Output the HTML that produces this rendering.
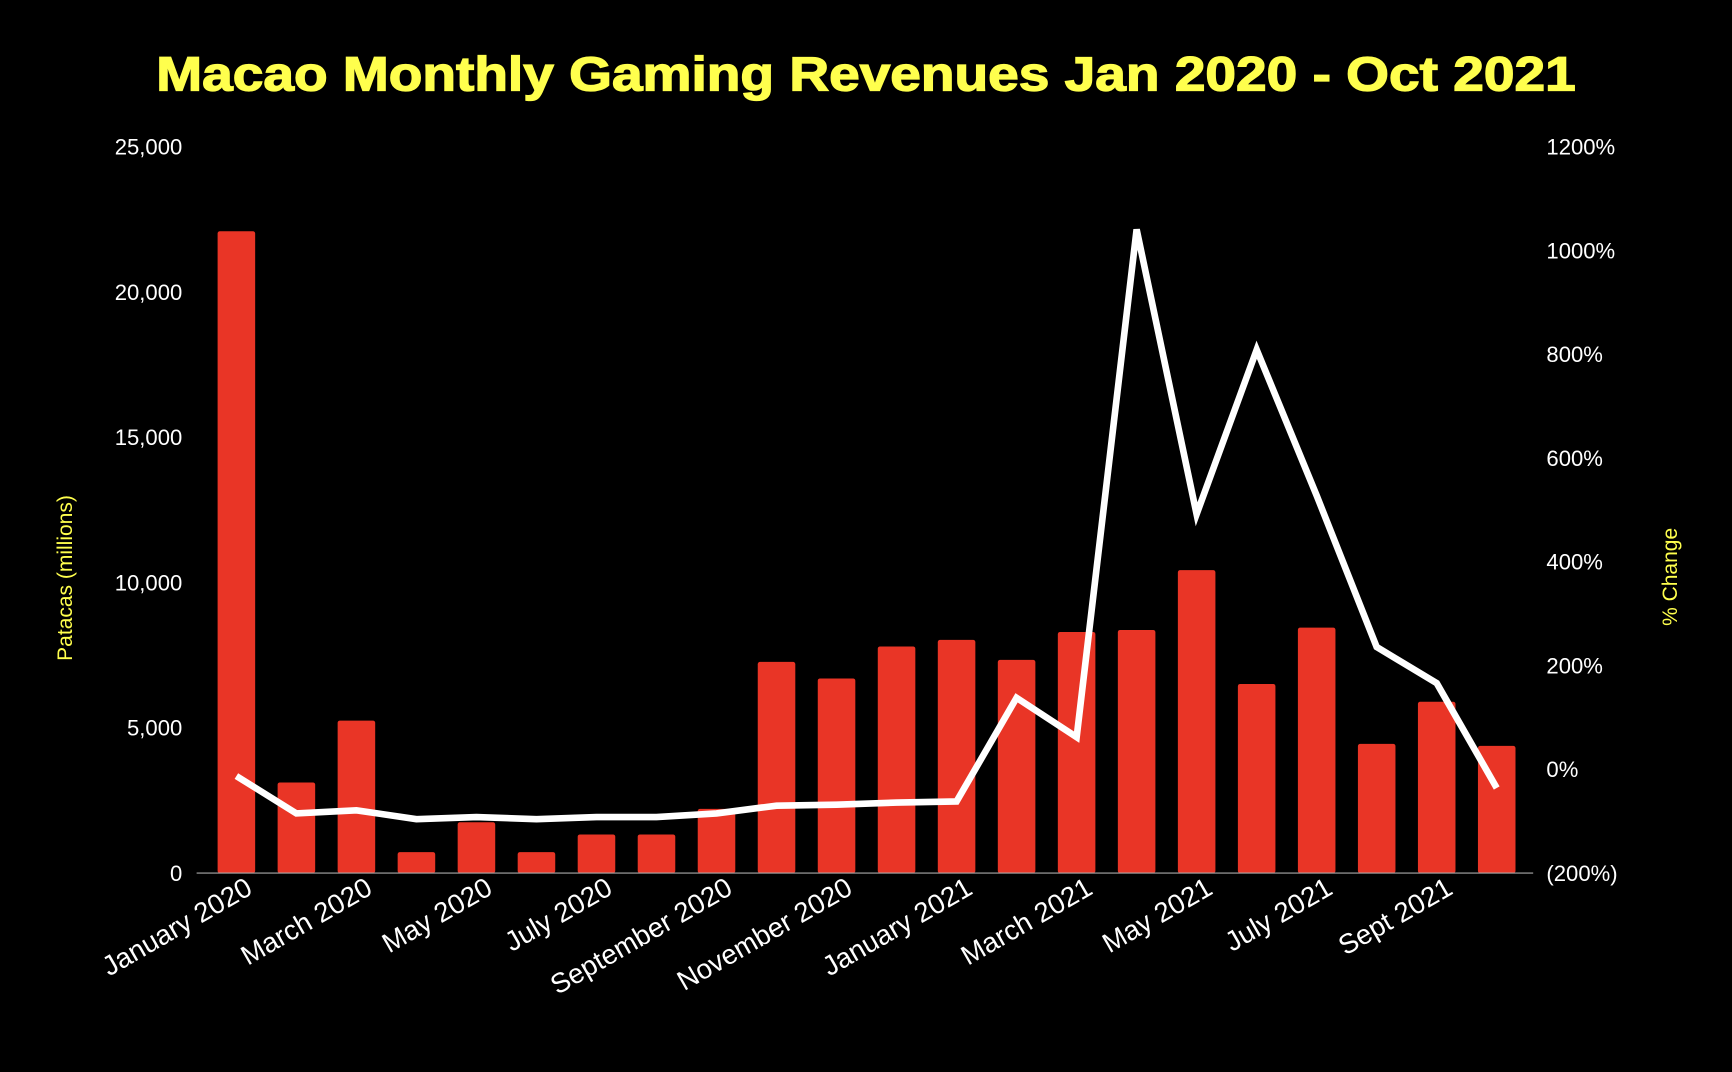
<!DOCTYPE html>
<html><head><meta charset="utf-8"><style>
html,body{margin:0;padding:0;background:#000;width:1732px;height:1072px;overflow:hidden}
svg{display:block}
text{font-family:"Liberation Sans",sans-serif}
</style></head><body>
<svg id="chart" width="1732" height="1072" viewBox="0 0 1568 970" preserveAspectRatio="none" xmlns="http://www.w3.org/2000/svg">
<rect width="1568" height="970" fill="#000"/>
<text x="784" y="82" text-anchor="middle" font-size="44" font-weight="bold" fill="#ffff4d" textLength="1285" lengthAdjust="spacingAndGlyphs" stroke="#ffff4d" stroke-width="1.2">Macao Monthly Gaming Revenues Jan 2020 - Oct 2021</text>
<text transform="translate(65,523) rotate(-90)" text-anchor="middle" font-size="19" fill="#ffff4d">Patacas (millions)</text>
<text transform="translate(1518,522) rotate(-90)" text-anchor="middle" font-size="19" fill="#ffff4d">% Change</text>
<g id="bars"></g><g id="ticks"></g><g id="line"></g>
</svg>
<script>
const months = ["January 2020","Feb 2020","March 2020","Apr 2020","May 2020","Jun 2020","July 2020","Aug 2020","September 2020","Oct 2020","November 2020","Dec 2020","January 2021","Feb 2021","March 2021","Apr 2021","May 2021","Jun 2021","July 2021","Aug 2021","Sept 2021","Oct 2021"];
const revenue = [22100,3120,5250,720,1750,720,1330,1330,2210,7270,6700,7800,8030,7340,8300,8370,10430,6510,8450,4450,5900,4380];
const pctChange = [-13,-85,-79,-96,-92,-96,-92,-92,-85,-70,-68,-64,-62,138,62,1041,492,809,528,236,166,-36];
const leftTicks = [0,5000,10000,15000,20000,25000];
const rightTicks = [-200,0,200,400,600,800,1000,1200];

const NS="http://www.w3.org/2000/svg";
const x0=178,x1=1388,yBase=790,yTop=133;
const first=214,last=1355;
const step=(last-first)/(months.length-1);
const xC=i=>first+step*i;
const yL=v=>yBase-(v/25000)*(yBase-yTop);
const yR=v=>yBase-((v+200)/1400)*(yBase-yTop);
function mk(tag,attrs,parent){const e=document.createElementNS(NS,tag);for(const k in attrs)e.setAttribute(k,attrs[k]);parent.appendChild(e);return e;}
const bars=document.getElementById('bars'),ticks=document.getElementById('ticks'),lineG=document.getElementById('line');
revenue.forEach((v,i)=>{
  const r=mk('rect',{x:xC(i)-17,y:yL(v),width:34,height:yBase-yL(v),fill:'#e93526',rx:2},bars);
  
  
});
const ax=mk('line',{x1:x0,x2:x1,y1:yBase,y2:yBase,stroke:'#aaa','stroke-width':1},ticks);


leftTicks.forEach(v=>{
  const t=mk('text',{x:165,y:yL(v)+7,'text-anchor':'end','font-size':20,fill:'#fff'},ticks);
  t.textContent=v.toLocaleString('en-US');
  
  
});
rightTicks.forEach(v=>{
  const t=mk('text',{x:1400,y:yR(v)+7,'font-size':20,fill:'#fff'},ticks);
  t.textContent=v<0?'('+(-v)+'%)':v+'%';
  
  
});
months.forEach((m,i)=>{
  if(i%2)return;
  const x=xC(i)+16,y=808;
  const t=mk('text',{x:x,y:y,'text-anchor':'end','font-size':25,fill:'#fff',transform:`rotate(-30 ${x} ${y})`},ticks);
  t.textContent=m;
  
  
});
const pts=pctChange.map((v,i)=>xC(i).toFixed(1)+','+yR(v).toFixed(1)).join(' ');
const pl=mk('polyline',{points:pts,fill:'none',stroke:'#fff','stroke-width':6,'stroke-linejoin':'miter'},lineG);


</script>
</body></html>
